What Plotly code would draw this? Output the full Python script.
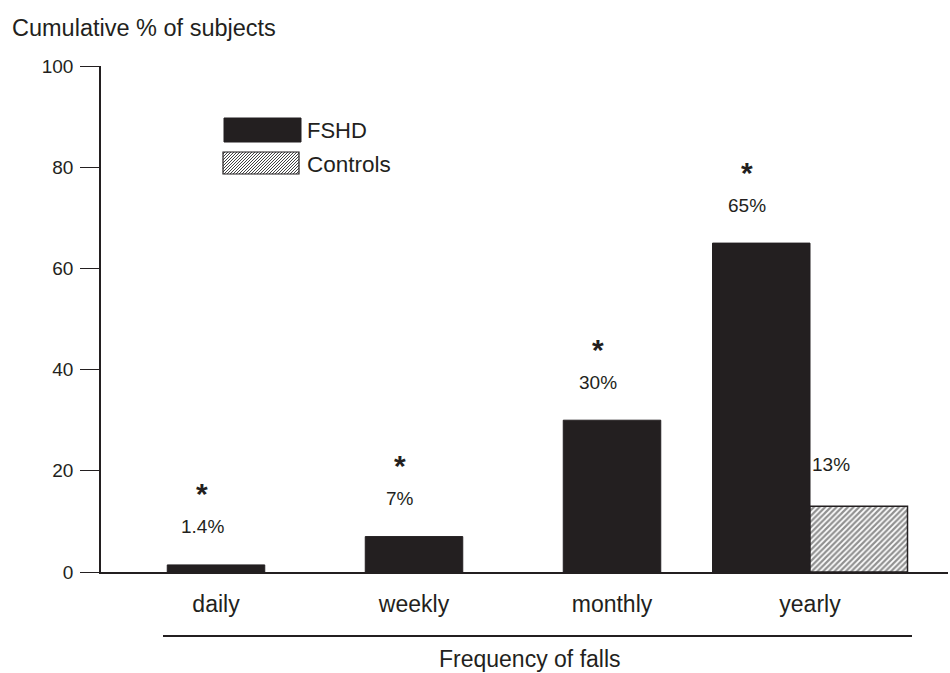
import plotly.graph_objects as go

# ---------------- data ----------------
categories = ["daily", "weekly", "monthly", "yearly"]
fshd_values = [1.4, 7, 30, 65]
fshd_labels = ["1.4%", "7%", "30%", "65%"]
fshd_significant = [True, True, True, True]
control_categories = ["yearly"]
control_values = [13]
control_labels = ["13%"]
y_ticks = [0, 20, 40, 60, 80, 100]

# ---------------- layout constants ----------------
W, H = 950, 673
# plot area in window pixels
PL, PR, PT, PB = 101, 948, 66, 572
ML, MR, MT, MB = PL, W - PR, PT, H - PB
PW, PH = PR - PL, PB - PT
CAT_STEP = 198.0      # px per category
FIRST_CENTER = 216.0  # px of first category centre
BAR_PX = 97.5
BW = BAR_PX / CAT_STEP
INK = "#231f20"
FONT = "Arial, Liberation Sans, Helvetica, sans-serif"

x_range = [(PL - FIRST_CENTER) / CAT_STEP, (PR - FIRST_CENTER) / CAT_STEP]


def px_x(px):
    return (px - PL) / PW


def px_y(py):
    return (PB - py) / PH


fig = go.Figure()

fshd_offsets = [(-BW if c in control_categories else -BW / 2) for c in categories]
fig.add_trace(go.Bar(
    x=categories, y=fshd_values, name="FSHD",
    width=BW, offset=fshd_offsets,
    marker=dict(color=INK, line=dict(color=INK, width=1)),
    showlegend=False,
))
fig.add_trace(go.Bar(
    x=control_categories, y=control_values, name="Controls",
    width=BW, offset=0,
    marker=dict(color="white", line=dict(color=INK, width=1.5),
                pattern=dict(shape="/", fgcolor="#222222", bgcolor="white",
                             size=4, solidity=0.55)),
    showlegend=False,
))

annotations = []
for cat, val, lab, sig, off in zip(categories, fshd_values, fshd_labels,
                                   fshd_significant, fshd_offsets):
    shift = (off + BW / 2) * CAT_STEP - 14
    annotations.append(dict(x=cat, y=val, xref="x", yref="y", text=lab,
                            showarrow=False, yanchor="middle", xshift=shift,
                            yshift=38, font=dict(size=19, color=INK, family=FONT)))
    if sig:
        annotations.append(dict(x=cat, y=val, xref="x", yref="y", text="<b>*</b>",
                                showarrow=False, yanchor="middle", xshift=shift,
                                yshift=71, font=dict(size=30, color=INK, family=FONT)))
for cat, val, lab in zip(control_categories, control_values, control_labels):
    shift = (BW / 2) * CAT_STEP - 28
    annotations.append(dict(x=cat, y=val, xref="x", yref="y", text=lab,
                            showarrow=False, yanchor="middle", xshift=shift,
                            yshift=42, font=dict(size=19, color=INK, family=FONT)))

annotations.append(dict(x=px_x(530), y=px_y(659), xref="paper", yref="paper",
                        text="Frequency of falls", showarrow=False,
                        xanchor="center", yanchor="middle",
                        font=dict(size=23, color=INK, family=FONT)))

annotations.append(dict(x=px_x(305), y=px_y(130), xref="paper", yref="paper",
                        text="FSHD", showarrow=False, xanchor="left", yanchor="middle",
                        font=dict(size=22, color=INK, family=FONT)))
annotations.append(dict(x=px_x(305), y=px_y(164), xref="paper", yref="paper",
                        text="Controls", showarrow=False, xanchor="left", yanchor="middle",
                        font=dict(size=22.5, color=INK, family=FONT)))

shapes = []
shapes.append(dict(type="line", xref="paper", yref="paper",
                   x0=px_x(163), x1=px_x(912), y0=px_y(636), y1=px_y(636),
                   line=dict(color=INK, width=2)))
shapes.append(dict(type="rect", xref="paper", yref="paper",
                   x0=px_x(224), x1=px_x(301), y0=px_y(142), y1=px_y(118),
                   fillcolor=INK, line=dict(color=INK, width=1)))
sx0, sx1, sy0, sy1 = 223, 299, 152, 174
shapes.append(dict(type="rect", xref="paper", yref="paper",
                   x0=px_x(sx0), x1=px_x(sx1), y0=px_y(sy1), y1=px_y(sy0),
                   fillcolor="white", line=dict(color=INK, width=1.2)))
path = []
c = sx0 + sy0 + 2
while c < sx1 + sy1:
    xa = max(sx0, c - sy1)
    xb = min(sx1, c - sy0)
    if xb > xa:
        path.append(f"M{px_x(xa):.5f},{px_y(c - xa):.5f}L{px_x(xb):.5f},{px_y(c - xb):.5f}")
    c += 3.0
shapes.append(dict(type="path", xref="paper", yref="paper", path="".join(path),
                   line=dict(color="#2a2a2a", width=0.9)))

fig.update_layout(
    width=W, height=H,
    margin=dict(l=ML, r=MR, t=MT, b=MB, pad=0),
    paper_bgcolor="white", plot_bgcolor="white",
    barmode="overlay",
    font=dict(family=FONT, color=INK),
    title=dict(text="Cumulative % of subjects", x=12 / W, xref="container",
               xanchor="left", y=(H - 28) / H, yref="container", yanchor="middle",
               font=dict(size=23.5, color=INK, family=FONT)),
    xaxis=dict(type="category", categoryorder="array", categoryarray=categories,
               range=x_range, showline=True, linecolor=INK, linewidth=2,
               ticks="", showgrid=False, zeroline=False,
               tickfont=dict(size=23, color=INK, family=FONT),
               ticklabelstandoff=10),
    yaxis=dict(range=[0, 100], tickvals=y_ticks, showline=True, linecolor=INK,
               linewidth=1.5, ticks="outside", ticklen=19, tickwidth=1,
               tickcolor=INK, showgrid=False, zeroline=False,
               tickfont=dict(size=19, color=INK, family=FONT),
               ticklabelstandoff=3),
    annotations=annotations,
    shapes=shapes,
    showlegend=False,
)

# remove the default 8px page margin so the 950x673 figure fills the window
fig.write_html(
    "out.html",
    config={"displayModeBar": False},
    post_script="document.body.style.margin='0';document.body.style.overflow='hidden';",
)
